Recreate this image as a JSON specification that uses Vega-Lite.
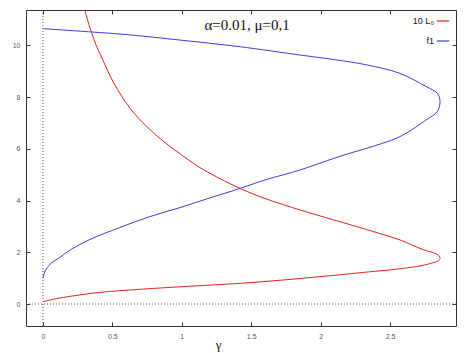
{
  "$schema": "https://vega.github.io/schema/vega-lite/v6.json",
  "width": 430,
  "height": 316,
  "autosize": "none",
  "padding": {"left": 26, "top": 10, "right": 13, "bottom": 27},
  "background": "white",
  "config": {
    "view": {"stroke": "#333", "strokeWidth": 1},
    "axis": {"grid": false, "zindex": 1, "domain": false, "ticks": true, "tickColor": "#333", "tickWidth": 1, "tickSize": -4, "labelPadding": 10, "labelColor": "#555", "labelFontSize": 7}
  },
  "datasets": {
    "curves": [
      {"series": "10 L₀", "idx": 1, "gamma": 0, "value": 0.09},
      {"series": "10 L₀", "idx": 2, "gamma": 0.1, "value": 0.21},
      {"series": "10 L₀", "idx": 3, "gamma": 0.2, "value": 0.3},
      {"series": "10 L₀", "idx": 4, "gamma": 0.41, "value": 0.45},
      {"series": "10 L₀", "idx": 5, "gamma": 0.7, "value": 0.57},
      {"series": "10 L₀", "idx": 6, "gamma": 1.0, "value": 0.67},
      {"series": "10 L₀", "idx": 7, "gamma": 1.5, "value": 0.83},
      {"series": "10 L₀", "idx": 8, "gamma": 2.0, "value": 1.06},
      {"series": "10 L₀", "idx": 9, "gamma": 2.36, "value": 1.25},
      {"series": "10 L₀", "idx": 10, "gamma": 2.5, "value": 1.32},
      {"series": "10 L₀", "idx": 11, "gamma": 2.69, "value": 1.45},
      {"series": "10 L₀", "idx": 12, "gamma": 2.8, "value": 1.58},
      {"series": "10 L₀", "idx": 13, "gamma": 2.85, "value": 1.68},
      {"series": "10 L₀", "idx": 14, "gamma": 2.86, "value": 1.78},
      {"series": "10 L₀", "idx": 15, "gamma": 2.84, "value": 1.92},
      {"series": "10 L₀", "idx": 16, "gamma": 2.74, "value": 2.1},
      {"series": "10 L₀", "idx": 17, "gamma": 2.57, "value": 2.48},
      {"series": "10 L₀", "idx": 18, "gamma": 2.33, "value": 2.88},
      {"series": "10 L₀", "idx": 19, "gamma": 2.0, "value": 3.4},
      {"series": "10 L₀", "idx": 20, "gamma": 1.85, "value": 3.64},
      {"series": "10 L₀", "idx": 21, "gamma": 1.6, "value": 4.08},
      {"series": "10 L₀", "idx": 22, "gamma": 1.42, "value": 4.47},
      {"series": "10 L₀", "idx": 23, "gamma": 1.25, "value": 4.92},
      {"series": "10 L₀", "idx": 24, "gamma": 1.12, "value": 5.31},
      {"series": "10 L₀", "idx": 25, "gamma": 0.99, "value": 5.8},
      {"series": "10 L₀", "idx": 26, "gamma": 0.87, "value": 6.28},
      {"series": "10 L₀", "idx": 27, "gamma": 0.75, "value": 6.85},
      {"series": "10 L₀", "idx": 28, "gamma": 0.63, "value": 7.55},
      {"series": "10 L₀", "idx": 29, "gamma": 0.51, "value": 8.55},
      {"series": "10 L₀", "idx": 30, "gamma": 0.43, "value": 9.45},
      {"series": "10 L₀", "idx": 31, "gamma": 0.38, "value": 10.05},
      {"series": "10 L₀", "idx": 32, "gamma": 0.35, "value": 10.5},
      {"series": "10 L₀", "idx": 33, "gamma": 0.315, "value": 11.1},
      {"series": "10 L₀", "idx": 34, "gamma": 0.302, "value": 11.37},
      {"series": "f1", "idx": 1, "gamma": 0, "value": 1.0},
      {"series": "f1", "idx": 2, "gamma": 0.01, "value": 1.2},
      {"series": "f1", "idx": 3, "gamma": 0.03, "value": 1.4},
      {"series": "f1", "idx": 4, "gamma": 0.06, "value": 1.58},
      {"series": "f1", "idx": 5, "gamma": 0.11, "value": 1.76},
      {"series": "f1", "idx": 6, "gamma": 0.2, "value": 2.1},
      {"series": "f1", "idx": 7, "gamma": 0.34, "value": 2.5},
      {"series": "f1", "idx": 8, "gamma": 0.55, "value": 2.95},
      {"series": "f1", "idx": 9, "gamma": 0.77, "value": 3.38},
      {"series": "f1", "idx": 10, "gamma": 1.0, "value": 3.75},
      {"series": "f1", "idx": 11, "gamma": 1.2, "value": 4.1},
      {"series": "f1", "idx": 12, "gamma": 1.42, "value": 4.47},
      {"series": "f1", "idx": 13, "gamma": 1.6, "value": 4.8},
      {"series": "f1", "idx": 14, "gamma": 1.85, "value": 5.18},
      {"series": "f1", "idx": 15, "gamma": 2.05, "value": 5.55},
      {"series": "f1", "idx": 16, "gamma": 2.21, "value": 5.83},
      {"series": "f1", "idx": 17, "gamma": 2.33, "value": 6.02},
      {"series": "f1", "idx": 18, "gamma": 2.57, "value": 6.47},
      {"series": "f1", "idx": 19, "gamma": 2.76, "value": 7.12},
      {"series": "f1", "idx": 20, "gamma": 2.84, "value": 7.44},
      {"series": "f1", "idx": 21, "gamma": 2.86, "value": 7.83},
      {"series": "f1", "idx": 22, "gamma": 2.84, "value": 8.15},
      {"series": "f1", "idx": 23, "gamma": 2.76, "value": 8.41},
      {"series": "f1", "idx": 24, "gamma": 2.57, "value": 8.92},
      {"series": "f1", "idx": 25, "gamma": 2.33, "value": 9.25},
      {"series": "f1", "idx": 26, "gamma": 2.1, "value": 9.45},
      {"series": "f1", "idx": 27, "gamma": 1.85, "value": 9.63},
      {"series": "f1", "idx": 28, "gamma": 1.42, "value": 9.95},
      {"series": "f1", "idx": 29, "gamma": 1.0, "value": 10.2},
      {"series": "f1", "idx": 30, "gamma": 0.6, "value": 10.42},
      {"series": "f1", "idx": 31, "gamma": 0.35, "value": 10.52},
      {"series": "f1", "idx": 32, "gamma": 0, "value": 10.65}
    ],
    "notes": [
      {"label": "α=0.01, μ=0,1", "gamma": 1.47, "value": 10.6}
    ],
    "refs": [
      {"gamma": 0, "value": 0}
    ]
  },
  "layer": [
    {
      "mark": {"type": "rect", "fillOpacity": 0, "stroke": "#333", "strokeWidth": 1},
      "encoding": {
        "x": {"datum": -0.122, "type": "quantitative", "axis": null},
        "x2": {"datum": 2.975},
        "y": {"datum": -0.85, "type": "quantitative", "axis": null},
        "y2": {"datum": 11.37}
      }
    },
    {
      "data": {"name": "curves"},
      "mark": {"type": "line", "strokeWidth": 1, "interpolate": "catmull-rom"},
      "encoding": {
        "x": {"field": "gamma", "type": "quantitative", "scale": {"domain": [-0.122, 2.975], "nice": false, "zero": false},
              "axis": {"orient": "bottom", "values": [0, 0.5, 1, 1.5, 2, 2.5], "format": "~g", "title": "γ", "titleFont": "Liberation Serif", "titleFontSize": 13, "titleFontWeight": "normal", "titleColor": "#111", "titleX": 192, "titleY": 12}},
        "y": {"field": "value", "type": "quantitative", "scale": {"domain": [-0.85, 11.37], "nice": false, "zero": false},
              "axis": {"orient": "left", "values": [0, 2, 4, 6, 8, 10], "title": null}},
        "color": {"field": "series", "type": "nominal", "scale": {"domain": ["10 L₀", "f1"], "range": ["#dd2222", "#3a3ae0"]},
                  "legend": {"title": null, "orient": "top-right", "offset": 4, "symbolType": "stroke", "symbolStrokeWidth": 1.2, "symbolSize": 150, "labelAlign": "right", "labelOffset": -16, "labelFont": "Liberation Sans", "labelFontSize": 9, "labelColor": "#111", "rowPadding": 8}},
        "detail": {"field": "series"},
        "order": {"field": "idx", "type": "quantitative"}
      }
    },
    {
      "data": {"name": "curves"},
      "mark": {"type": "point", "opacity": 0},
      "encoding": {
        "x": {"field": "gamma", "type": "quantitative", "scale": {"domain": [-0.122, 2.975], "nice": false, "zero": false},
              "axis": {"orient": "top", "values": [0, 0.5, 1, 1.5, 2, 2.5], "labels": false, "title": null}},
        "y": {"field": "value", "type": "quantitative", "scale": {"domain": [-0.85, 11.37], "nice": false, "zero": false},
              "axis": {"orient": "right", "values": [0, 2, 4, 6, 8, 10], "labels": false, "title": null}}
      }
    },
    {
      "data": {"name": "refs"},
      "mark": {"type": "rule", "color": "#555", "strokeWidth": 1, "strokeDash": [1, 2]},
      "encoding": {"x": {"field": "gamma", "type": "quantitative", "axis": null}}
    },
    {
      "data": {"name": "refs"},
      "mark": {"type": "rule", "color": "#555", "strokeWidth": 1, "strokeDash": [1, 2]},
      "encoding": {"y": {"field": "value", "type": "quantitative", "axis": null}}
    },
    {
      "data": {"name": "notes"},
      "mark": {"type": "text", "align": "center", "baseline": "alphabetic", "font": "Liberation Serif", "fontSize": 15, "color": "#111"},
      "encoding": {
        "x": {"field": "gamma", "type": "quantitative", "axis": null},
        "y": {"field": "value", "type": "quantitative", "axis": null},
        "text": {"field": "label"}
      }
    },
    {
      "mark": {"type": "text", "text": "m=1, n=1", "align": "right", "baseline": "alphabetic", "font": "Liberation Sans", "fontSize": 15, "color": "#111", "dx": 2},
      "encoding": {
        "x": {"datum": 2.975, "type": "quantitative", "axis": null},
        "y": {"datum": -0.68, "type": "quantitative", "axis": null}
      }
    }
  ],
  "resolve": {"axis": {"x": "independent", "y": "independent"}}
}
